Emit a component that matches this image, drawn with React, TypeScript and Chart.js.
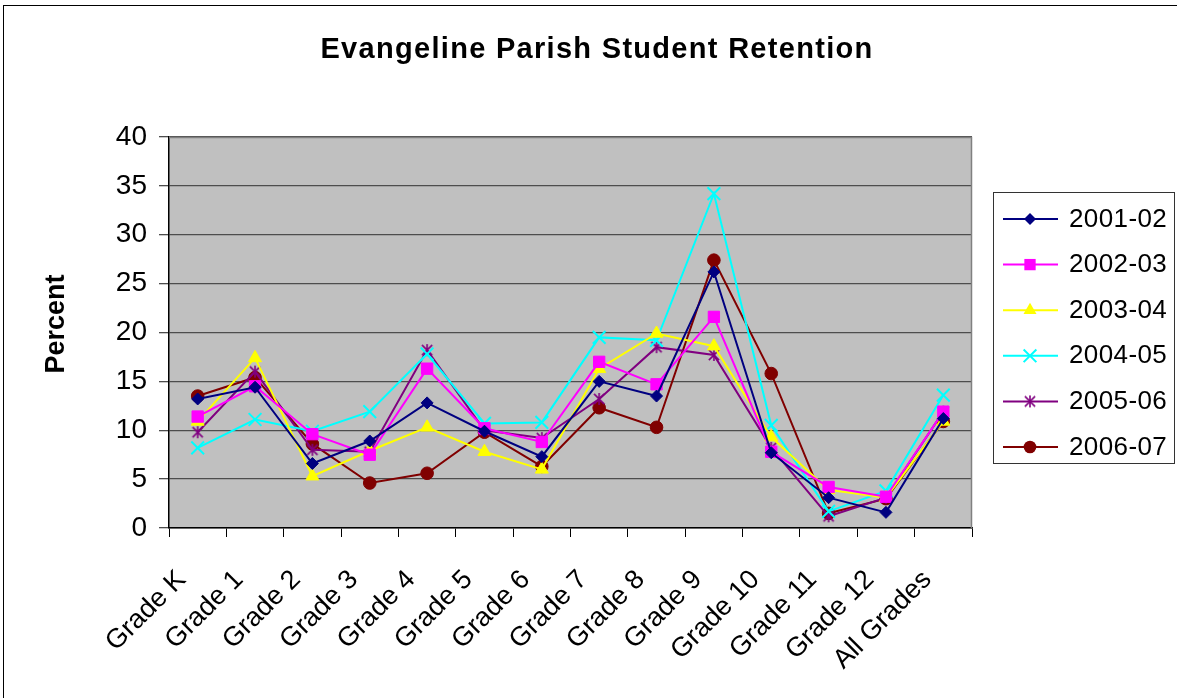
import React, { useEffect, useRef } from "react";
import { Chart, registerables } from "chart.js";

Chart.register(...registerables);

const categories = [
  "Grade K", "Grade 1", "Grade 2", "Grade 3", "Grade 4", "Grade 5", "Grade 6",
  "Grade 7", "Grade 8", "Grade 9", "Grade 10", "Grade 11", "Grade 12", "All Grades",
];

const seriesNames = ["2001-02", "2002-03", "2003-04", "2004-05", "2005-06", "2006-07"];

const y2001_02 = [13.2, 14.4, 6.6, 8.9, 12.8, 9.9, 7.3, 15.0, 13.5, 26.2, 7.7, 3.1, 1.6, 11.2];
const y2002_03 = [11.4, 14.5, 9.6, 7.5, 16.3, 10.2, 8.8, 17.0, 14.7, 21.6, 7.8, 4.2, 3.2, 11.9];
const y2003_04 = [10.9, 17.4, 5.3, 7.9, 10.3, 7.8, 6.0, 16.3, 19.9, 18.6, 9.3, 3.9, 3.1, 10.9];
const y2004_05 = [8.2, 11.1, 9.9, 11.9, 17.8, 10.7, 10.8, 19.5, 19.2, 34.2, 10.5, 1.7, 3.8, 13.6];
const y2005_06 = [9.8, 16.0, 8.0, 7.8, 18.2, 10.0, 9.2, 13.2, 18.5, 17.7, 8.2, 1.2, 3.1, 11.9];
const y2006_07 = [13.5, 15.4, 8.6, 4.6, 5.6, 9.8, 6.3, 12.3, 10.3, 27.4, 15.8, 1.5, 3.0, 10.9];

const seriesValues = [y2001_02, y2002_03, y2003_04, y2004_05, y2005_06, y2006_07];
const seriesColors = ["#000080", "#FF00FF", "#FFFF00", "#00FFFF", "#800080", "#800000"];
const seriesMarkers = ["rectRot", "rect", "triangle", "crossRot", "asterisk", "circle"];
const seriesRadius = [6, 8, 7.5, 9, 6.5, 6.3];

const yMin = 0;
const yMax = 40;
const yStep = 5;

const FONT = "'Liberation Sans', Arial, Helvetica, sans-serif";

function makeAsterisk(color: string, size: number): HTMLCanvasElement {
  const c = document.createElement("canvas");
  c.width = size;
  c.height = size;
  const g = c.getContext("2d")!;
  const h = size / 2;
  const r = h - 1;
  g.strokeStyle = color;
  g.lineWidth = 1.6;
  g.beginPath();
  g.moveTo(h, h - r);
  g.lineTo(h, h + r);
  g.moveTo(h - r * 0.85, h - r * 0.85);
  g.lineTo(h + r * 0.85, h + r * 0.85);
  g.moveTo(h + r * 0.85, h - r * 0.85);
  g.lineTo(h - r * 0.85, h + r * 0.85);
  g.stroke();
  return c;
}

function drawMarker(ctx: CanvasRenderingContext2D, style: string, x: number, y: number, r: number, color: string, img?: HTMLCanvasElement) {
  ctx.save();
  ctx.fillStyle = color;
  ctx.strokeStyle = color;
  ctx.lineWidth = 2;
  ctx.beginPath();
  if (style === "rectRot") {
    ctx.moveTo(x - r, y);
    ctx.lineTo(x, y - r);
    ctx.lineTo(x + r, y);
    ctx.lineTo(x, y + r);
    ctx.closePath();
    ctx.fill();
  } else if (style === "rect") {
    const s = Math.SQRT1_2 * r;
    ctx.rect(x - s, y - s, 2 * s, 2 * s);
    ctx.fill();
  } else if (style === "triangle") {
    const a = (2 * Math.PI) / 3;
    ctx.moveTo(x, y - r);
    ctx.lineTo(x + Math.sin(a) * r, y - Math.cos(a) * r);
    ctx.lineTo(x + Math.sin(2 * a) * r, y - Math.cos(2 * a) * r);
    ctx.closePath();
    ctx.fill();
  } else if (style === "crossRot") {
    const s = Math.SQRT1_2 * r;
    ctx.moveTo(x - s, y - s);
    ctx.lineTo(x + s, y + s);
    ctx.moveTo(x + s, y - s);
    ctx.lineTo(x - s, y + s);
    ctx.stroke();
  } else if (style === "asterisk" && img) {
    ctx.drawImage(img, x - img.width / 2, y - img.height / 2);
  } else if (style === "circle") {
    ctx.arc(x, y, r, 0, Math.PI * 2);
    ctx.fill();
  }
  ctx.restore();
}

export default function App() {
  const ref = useRef<HTMLCanvasElement>(null);

  useEffect(() => {
    if (!ref.current) return;
    const W = 1177;
    const H = 698;
    const asterisk = makeAsterisk("#800080", 14);

    const datasets = seriesNames.map((name, i) => ({
      label: name,
      data: seriesValues[i],
      borderColor: seriesColors[i],
      backgroundColor: seriesColors[i],
      pointBackgroundColor: seriesColors[i],
      pointBorderColor: seriesColors[i],
      pointStyle: (seriesMarkers[i] === "asterisk" ? asterisk : seriesMarkers[i]) as any,
      pointRadius: seriesRadius[i],
      pointBorderWidth: seriesMarkers[i] === "crossRot" ? 2 : 1,
      borderWidth: 2,
      tension: 0,
      fill: false,
    }));

    const decor = {
      id: "decor",
      beforeDraw(chart: any) {
        const { ctx, chartArea: a } = chart;
        ctx.save();
        ctx.fillStyle = "#ffffff";
        ctx.fillRect(0, 0, W, H);
        ctx.fillStyle = "#c0c0c0";
        ctx.fillRect(a.left, a.top, a.right - a.left, a.bottom - a.top);
        ctx.restore();
      },
      beforeDatasetsDraw(chart: any) {
        const { ctx, chartArea: a } = chart;
        ctx.save();
        ctx.strokeStyle = "#808080";
        ctx.lineWidth = 1.5;
        ctx.beginPath();
        ctx.moveTo(a.left, a.top + 0.5);
        ctx.lineTo(a.right - 0.5, a.top + 0.5);
        ctx.lineTo(a.right - 0.5, a.bottom);
        ctx.stroke();
        ctx.restore();
      },
      afterDraw(chart: any) {
        const { ctx } = chart;
        ctx.save();
        // outer chart border
        ctx.strokeStyle = "#000000";
        ctx.lineWidth = 1;
        ctx.strokeRect(3.5, 5.5, 1200, 720);

        // title
        ctx.fillStyle = "#000000";
        ctx.font = `bold 29px ${FONT}`;
        (ctx as any).letterSpacing = "1.3px";
        ctx.textAlign = "center";
        ctx.textBaseline = "alphabetic";
        ctx.fillText("Evangeline Parish Student Retention", 597, 58);

        // y axis title
        (ctx as any).letterSpacing = "0px";
        ctx.save();
        ctx.translate(64, 324);
        ctx.rotate(-Math.PI / 2);
        ctx.font = `bold 27px ${FONT}`;
        ctx.textAlign = "center";
        ctx.textBaseline = "alphabetic";
        ctx.fillText("Percent", 0, 0);
        ctx.restore();

        // legend
        ctx.strokeStyle = "#333333";
        ctx.lineWidth = 1;
        ctx.strokeRect(993.5, 192.5, 181, 271);
        ctx.font = `26px ${FONT}`;
        (ctx as any).letterSpacing = "0.4px";
        ctx.textAlign = "left";
        ctx.textBaseline = "alphabetic";
        seriesNames.forEach((name, i) => {
          const y = 219 + i * 45.6;
          ctx.strokeStyle = seriesColors[i];
          ctx.lineWidth = 2;
          ctx.beginPath();
          ctx.moveTo(1003, y);
          ctx.lineTo(1058, y);
          ctx.stroke();
          drawMarker(ctx, seriesMarkers[i], 1030, y, seriesRadius[i], seriesColors[i], asterisk);
          ctx.fillStyle = "#000000";
          ctx.fillText(name, 1069, y + 7.5);
        });
        ctx.restore();
      },
    };

    const chart = new Chart(ref.current, {
      type: "line",
      data: { labels: categories, datasets: datasets as any },
      options: {
        animation: false,
        responsive: false,
        devicePixelRatio: 1,
        events: [],
        layout: { padding: { left: 0, top: 137, right: W - 972, bottom: 0 } },
        plugins: {
          legend: { display: false },
          title: { display: false },
          tooltip: { enabled: false },
        },
        scales: {
          x: {
            type: "category",
            offset: true,
            grid: {
              offset: true,
              drawOnChartArea: false,
              drawTicks: true,
              tickLength: 9,
              color: "#000000",
              lineWidth: 1,
            },
            border: { color: "#000000", width: 1.5 },
            ticks: {
              autoSkip: false,
              maxRotation: 45,
              minRotation: 45,
              padding: 27,
              labelOffset: -16,
              color: "#000000",
              font: { family: FONT, size: 27 },
            },
            afterFit(scale: any) {
              scale.height = H - 528;
            },
          },
          y: {
            min: yMin,
            max: yMax,
            ticks: {
              stepSize: yStep,
              padding: 12,
              color: "#000000",
              font: { family: FONT, size: 28 },
            },
            grid: {
              color: "#4d4d4d",
              lineWidth: 1.3,
              tickLength: 10,
            },
            border: { color: "#000000", width: 1.5 },
            afterFit(scale: any) {
              scale.width = 169;
            },
          },
        },
      },
      plugins: [decor],
    });

    return () => chart.destroy();
  }, []);

  return (
    <canvas
      ref={ref}
      width={1177}
      height={698}
      style={{ position: "absolute", left: 0, top: 0, width: "1177px", height: "698px" }}
    />
  );
}
